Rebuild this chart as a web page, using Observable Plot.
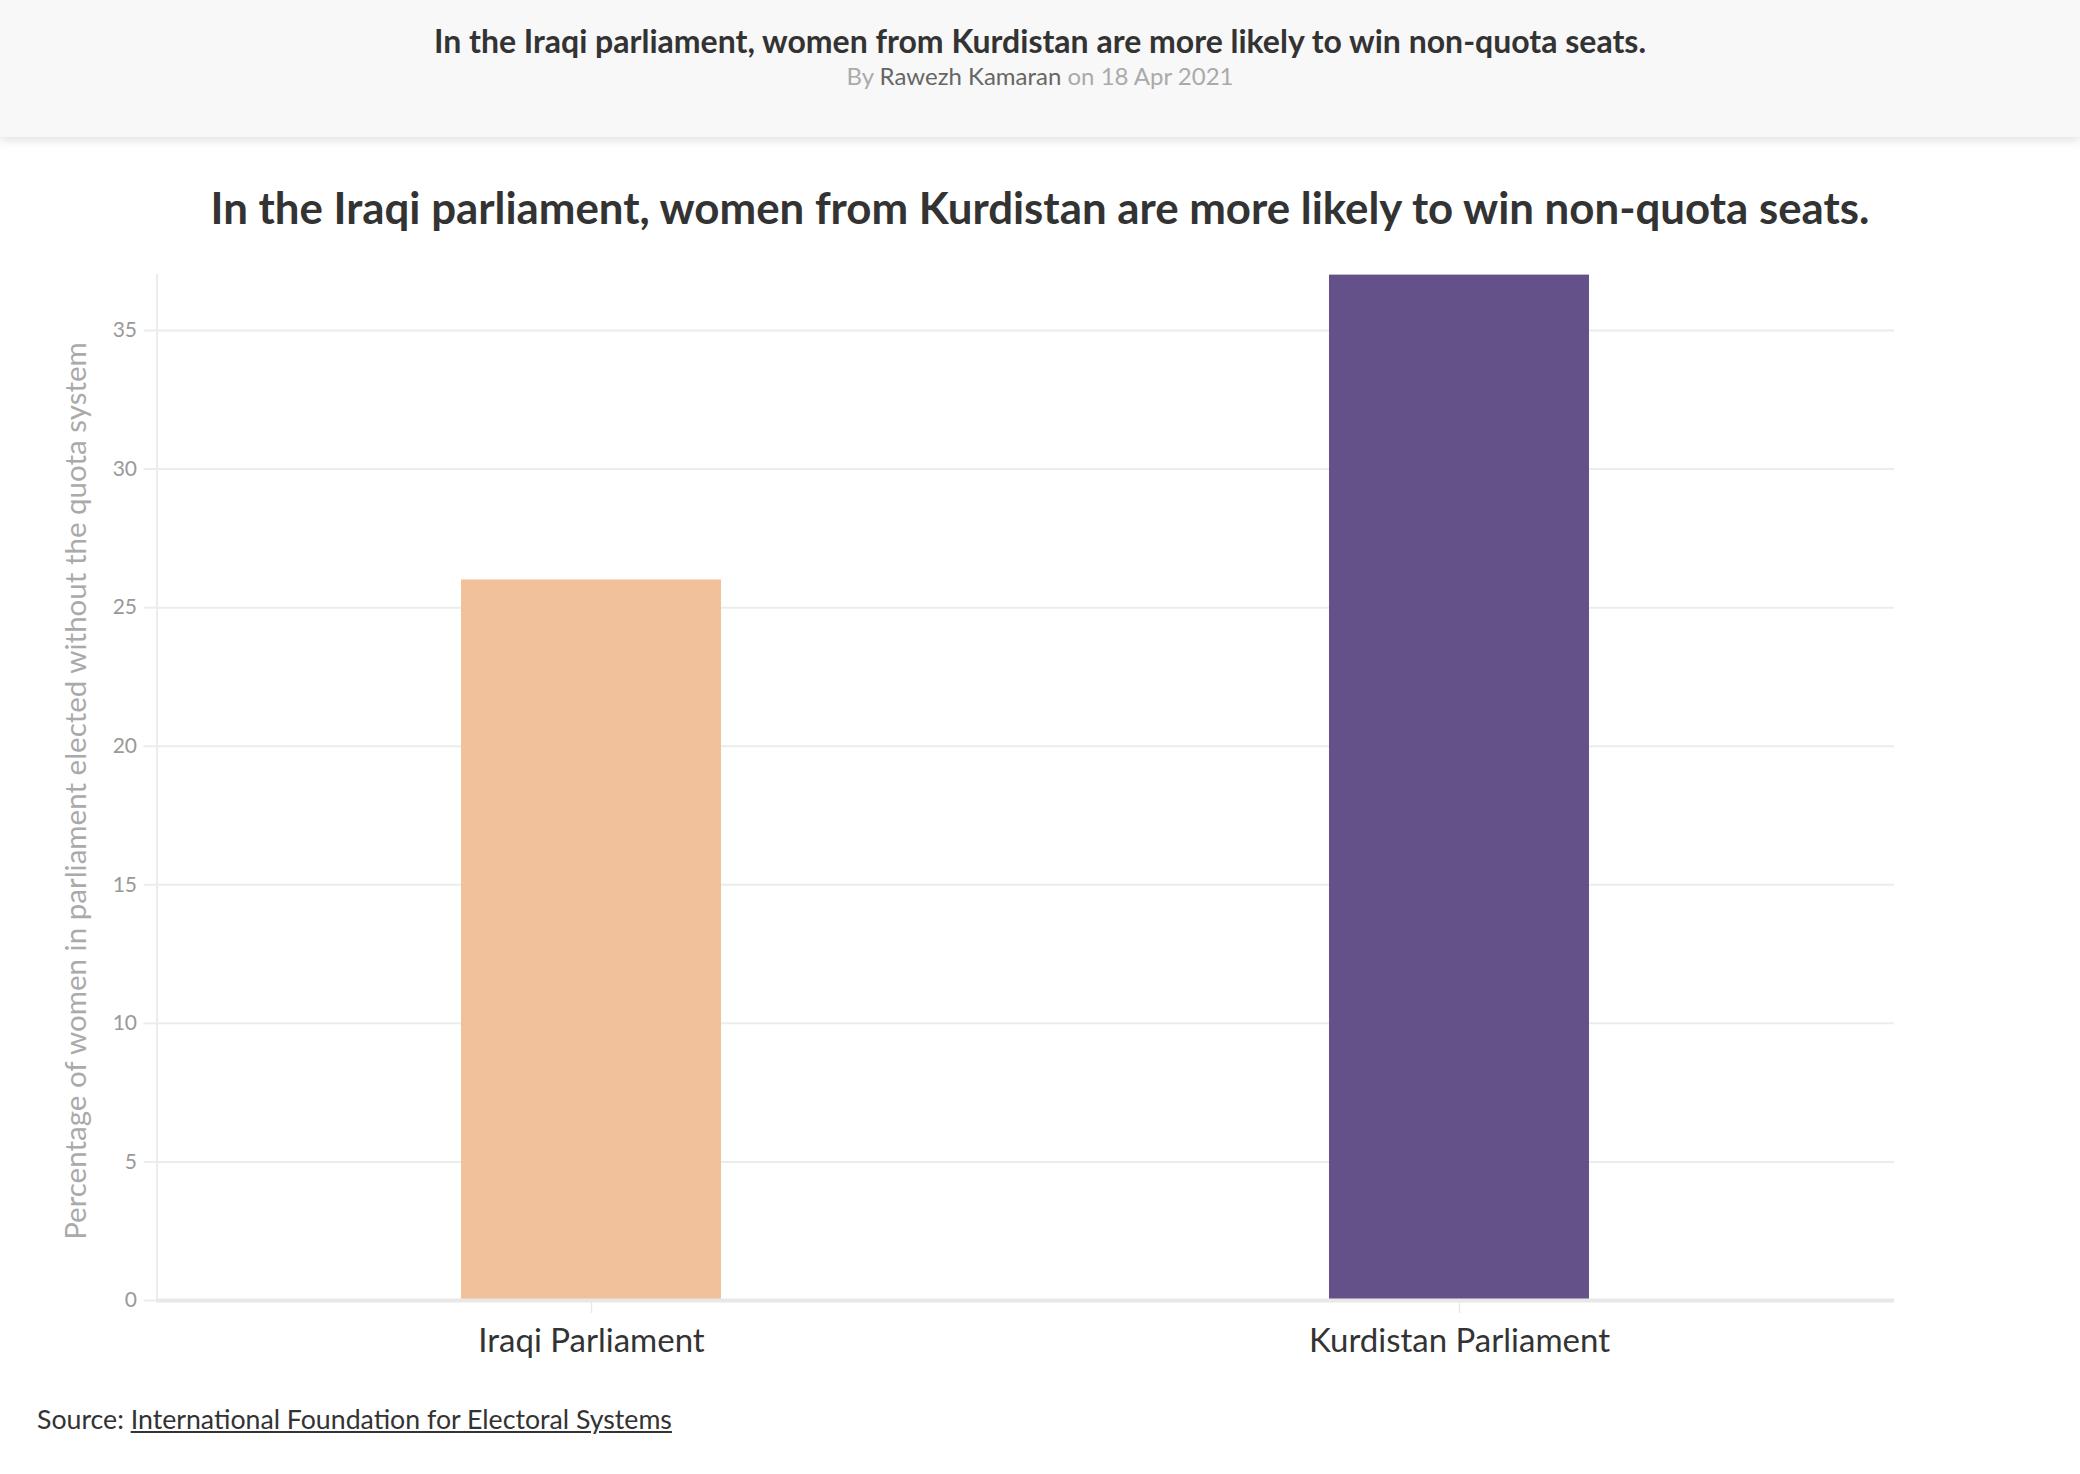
<!DOCTYPE html>
<html><head><meta charset="utf-8">
<script src="https://cdn.jsdelivr.net/npm/d3@7"></script>
<script src="https://cdn.jsdelivr.net/npm/@observablehq/plot@0.6"></script>
<style>
html,body{margin:0;padding:0;background:#fff}
body{width:2080px;height:1474px;position:relative;overflow:hidden;font-family:Lato,"Open Sans",sans-serif;color:#333}
#hdr{position:absolute;left:0;top:0;width:2080px;height:137px;background:#f8f8f8;box-shadow:0 3px 10px rgba(0,0,0,0.13);z-index:2}
#hdr .t{position:absolute;left:0;width:2080px;top:22px;text-align:center;font-weight:700;font-size:32px;line-height:38px;color:#333}
#hdr .s{position:absolute;left:0;width:2080px;top:61px;text-align:center;font-size:24px;line-height:30px;color:#aaa}
#hdr .s b{font-weight:400;color:#666}
#title{position:absolute;left:0;width:2080px;top:180px;text-align:center;font-weight:700;font-size:43.8px;line-height:54px;color:#333}
#chart{position:absolute;left:0;top:240px}
#ylab{position:absolute;left:74px;top:791px;transform:translate(-50%,-50%) rotate(-90deg);white-space:nowrap;font-size:29.5px;color:#aaa}
#src{position:absolute;left:37px;top:1402px;font-size:26.7px;line-height:34px;color:#333}
#src a{color:#333;text-decoration:underline}
</style></head>
<body>
<div id="hdr"><div class="t">In the Iraqi parliament, women from Kurdistan are more likely to win non-quota seats.</div>
<div class="s">By <b>Rawezh Kamaran</b> on 18 Apr 2021</div></div>
<div id="title">In the Iraqi parliament, women from Kurdistan are more likely to win non-quota seats.</div>
<div id="chart"></div>
<div id="ylab">Percentage of women in parliament elected without the quota system</div>
<div id="src">Source: <a>International Foundation for Electoral Systems</a></div>
<script>
const categories = ["Iraqi Parliament", "Kurdistan Parliament"];
const values = [26, 37];
const colors = ["#f1c19c", "#655189"];
const yTicks = [0, 5, 10, 15, 20, 25, 30, 35];

const data = categories.map((c, i) => ({category: c, value: values[i]}));

const chart = Plot.plot({
  width: 2080,
  height: 1140,
  marginLeft: 156.5,
  marginRight: 186,
  marginTop: 34.6,
  marginBottom: 80,
  style: {fontFamily: "Lato, sans-serif", background: "transparent", overflow: "visible"},
  x: {domain: categories, paddingInner: 0.7, paddingOuter: 0.35, label: null},
  y: {domain: [0, 37], label: null},
  color: {domain: categories, range: colors},
  marks: [
    Plot.gridY(yTicks, {stroke: "#ececec", strokeOpacity: 1, strokeWidth: 2}),
    Plot.axisY(yTicks, {tickSize: 13, stroke: "#ececec", strokeWidth: 2, tickPadding: 7, fontSize: 21, fill: "#999", label: null}),
    Plot.frame({anchor: "left", stroke: "#ececec", strokeWidth: 2}),
    Plot.barY(data, {x: "category", y: "value", fill: "category"}),
    Plot.ruleY([0], {stroke: "#e8e8e8", strokeWidth: 4}),
    Plot.axisX({tickSize: 13, stroke: "#e8e8e8", strokeWidth: 1.5, tickPadding: 15, fontSize: 33, fill: "#333", label: null})
  ]
});
document.getElementById("chart").appendChild(chart);
</script>
</body></html>
